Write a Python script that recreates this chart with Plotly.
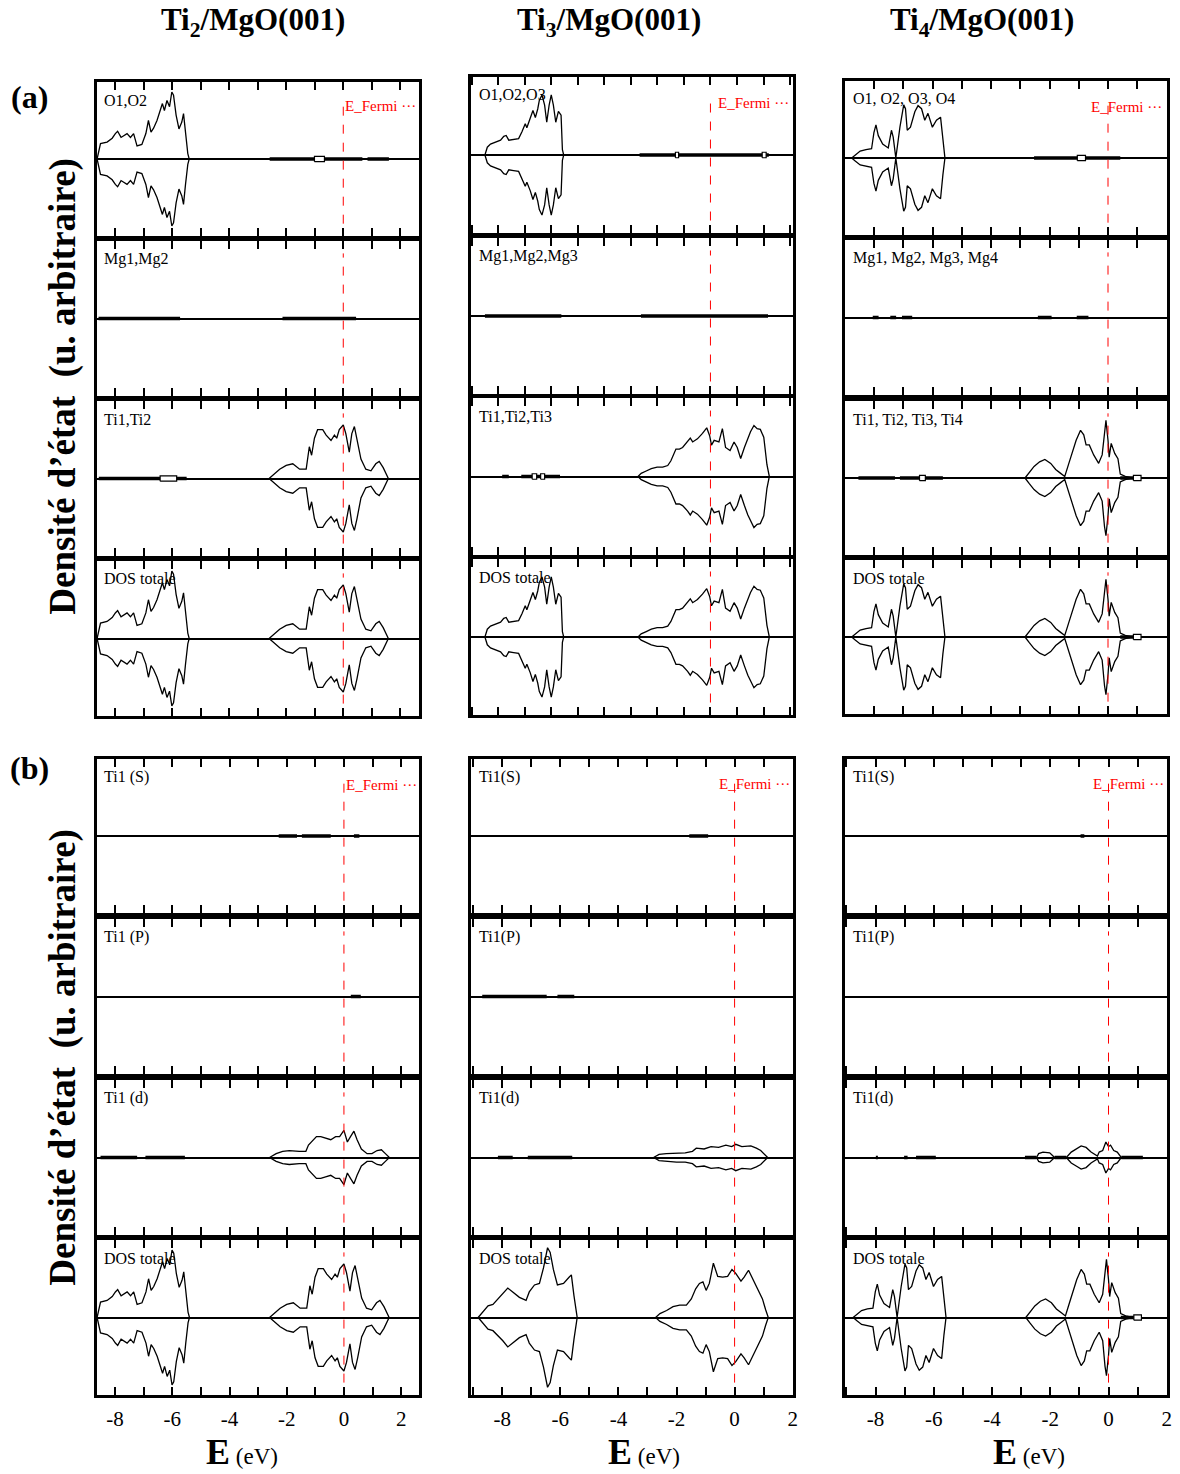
import math
import plotly.graph_objects as go

W, H = 1180, 1474

# ======================= DATA =======================
COLUMN_TITLES = ["<b>Ti<sub>2</sub>/MgO(001)</b>", "<b>Ti<sub>3</sub>/MgO(001)</b>", "<b>Ti<sub>4</sub>/MgO(001)</b>"]
LABELS_A = [["O1,O2", "Mg1,Mg2", "Ti1,Ti2", "DOS totale"],
            ["O1,O2,O3", "Mg1,Mg2,Mg3", "Ti1,Ti2,Ti3", "DOS totale"],
            ["O1, O2, O3, O4", "Mg1, Mg2, Mg3, Mg4", "Ti1, Ti2, Ti3, Ti4", "DOS totale"]]
LABELS_B = [["Ti1 (S)", "Ti1 (P)", "Ti1 (d)", "DOS totale"],
            ["Ti1(S)", "Ti1(P)", "Ti1(d)", "DOS totale"],
            ["Ti1(S)", "Ti1(P)", "Ti1(d)", "DOS totale"]]
TICK_LABELS = {-8: "-8", -6: "-6", -4: "-4", -2: "-2", 0: "0", 2: "2"}

# ---- Ti2/MgO(001) ----
E_O_ti2 = [-8.63, -8.51, -8.28, -8.10, -7.99, -7.91, -7.79, -7.67, -7.58, -7.46, -7.35, -7.23, -7.06, -6.92, -6.83, -6.74,
           -6.65, -6.53, -6.44, -6.34, -6.27, -6.18, -6.09, -6.01, -5.95, -5.86, -5.76, -5.66, -5.60, -5.53, -5.45, -5.40]
DOS_O_ti2 = [0, 0.20, 0.22, 0.27, 0.33, 0.36, 0.28, 0.31, 0.33, 0.28, 0.33, 0.17, 0.19, 0.33, 0.50, 0.35,
             0.40, 0.50, 0.61, 0.72, 0.63, 0.76, 0.68, 0.87, 0.83, 0.57, 0.39, 0.48, 0.59, 0.33, 0.07, 0]
E_Ti_ti2 = [-2.60, -2.46, -2.23, -2.00, -1.77, -1.53, -1.30, -1.19, -1.11, -1.01, -0.90, -0.72, -0.60, -0.43, -0.31,
            -0.23, -0.14, 0.00, 0.09, 0.21, 0.30, 0.39, 0.48, 0.62, 0.79, 0.97, 1.14, 1.26, 1.40, 1.58]
DOS_Ti_ti2 = [0, 0.05, 0.12, 0.17, 0.19, 0.12, 0.12, 0.41, 0.30, 0.52, 0.63, 0.63, 0.56, 0.49, 0.56,
              0.52, 0.63, 0.69, 0.58, 0.34, 0.58, 0.67, 0.52, 0.25, 0.12, 0.10, 0.19, 0.22, 0.14, 0]
E_d_ti2 = [-2.60, -2.37, -2.14, -1.91, -1.56, -1.33, -1.24, -1.10, -0.96, -0.81, -0.64, -0.46, -0.29, -0.15, 0.00,
           0.12, 0.23, 0.35, 0.46, 0.61, 0.81, 0.98, 1.16, 1.31, 1.45, 1.59]
DOS_d_ti2 = [0, 0.05, 0.08, 0.09, 0.08, 0.08, 0.16, 0.22, 0.27, 0.27, 0.25, 0.23, 0.27, 0.27, 0.35,
             0.20, 0.27, 0.34, 0.23, 0.11, 0.05, 0.05, 0.09, 0.10, 0.05, 0]

# ---- Ti3/MgO(001) ----
E_O_ti3 = [-8.50, -8.41, -8.29, -8.10, -7.91, -7.79, -7.70, -7.60, -7.42, -7.23, -7.10, -6.98, -6.92, -6.79, -6.69,
           -6.60, -6.51, -6.45, -6.35, -6.25, -6.17, -6.08, -6.00, -5.92, -5.83, -5.73, -5.63, -5.58, -5.53]
DOS_O_ti3 = [0, 0.10, 0.14, 0.17, 0.19, 0.24, 0.25, 0.19, 0.20, 0.21, 0.30, 0.40, 0.35, 0.46, 0.57,
             0.48, 0.59, 0.70, 0.77, 0.64, 0.42, 0.64, 0.77, 0.64, 0.42, 0.56, 0.51, 0.07, 0]
E_Ti_ti3 = [-2.73, -2.61, -2.42, -2.23, -2.01, -1.80, -1.61, -1.49, -1.30, -1.17, -1.05, -0.86, -0.76, -0.67, -0.49,
            -0.30, -0.14, -0.03, 0.04, 0.14, 0.32, 0.45, 0.57, 0.74, 0.89, 1.01, 1.14, 1.28, 1.41, 1.51,
            1.64, 1.76, 1.88, 2.01, 2.13, 2.22]
DOS_Ti_ti3 = [0, 0.04, 0.07, 0.10, 0.12, 0.12, 0.14, 0.20, 0.35, 0.35, 0.37, 0.44, 0.49, 0.44, 0.48,
              0.55, 0.62, 0.52, 0.40, 0.46, 0.44, 0.61, 0.37, 0.33, 0.44, 0.37, 0.23, 0.37, 0.49, 0.57,
              0.65, 0.61, 0.60, 0.50, 0.15, 0]
E_Vtot_ti3b = [-8.83, -8.66, -8.49, -8.32, -8.15, -7.98, -7.81, -7.64, -7.41, -7.18, -7.07, -6.89, -6.72, -6.58,
               -6.44, -6.35, -6.24, -6.10, -5.89, -5.70, -5.62, -5.53, -5.42]
DOS_Vtot_ti3b = [0, 0.08, 0.15, 0.17, 0.24, 0.30, 0.38, 0.33, 0.26, 0.22, 0.33, 0.42, 0.44, 0.64,
                 0.90, 0.84, 0.62, 0.42, 0.44, 0.52, 0.55, 0.28, 0]
E_Ctot_ti3b = [-2.72, -2.57, -2.34, -2.12, -1.89, -1.66, -1.49, -1.34, -1.21, -1.09, -0.98, -0.87, -0.73, -0.58,
               -0.41, -0.24, -0.09, 0.04, 0.22, 0.33, 0.48, 0.61, 0.79, 0.96, 1.07, 1.16]
DOS_Ctot_ti3b = [0, 0.05, 0.09, 0.14, 0.16, 0.16, 0.24, 0.37, 0.44, 0.46, 0.35, 0.44, 0.70, 0.53,
                 0.52, 0.53, 0.62, 0.57, 0.47, 0.52, 0.61, 0.51, 0.37, 0.24, 0.10, 0]
E_d_ti3 = [-2.79, -2.60, -2.35, -2.00, -1.70, -1.45, -1.32, -1.05, -0.81, -0.55, -0.30, -0.10, 0.04, 0.25, 0.56,
           0.75, 0.90, 1.14]
DOS_d_ti3 = [0, 0.04, 0.05, 0.06, 0.06, 0.08, 0.12, 0.11, 0.14, 0.13, 0.16, 0.14, 0.17, 0.14, 0.15,
             0.12, 0.09, 0]

# ---- Ti4/MgO(001) ----
E_O_ti4 = [-8.77, -8.65, -8.48, -8.28, -8.09, -8.01, -7.94, -7.86, -7.71, -7.52, -7.41, -7.35, -7.26, -7.12, -6.99,
           -6.93, -6.87, -6.76, -6.61, -6.50, -6.38, -6.27, -6.16, -6.01, -5.87, -5.73, -5.65, -5.58]
DOS_O_ti4 = [0, 0.04, 0.09, 0.11, 0.12, 0.33, 0.43, 0.29, 0.18, 0.13, 0.36, 0.27, 0, 0.40, 0.69,
             0.64, 0.36, 0.40, 0.60, 0.68, 0.64, 0.49, 0.58, 0.40, 0.49, 0.53, 0.22, 0]
E_Ti_ti4 = [-2.84, -2.70, -2.53, -2.34, -2.16, -1.96, -1.79, -1.62, -1.48, -1.34, -1.20, -1.09, -0.94, -0.83, -0.75,
            -0.64, -0.49, -0.32, -0.20, -0.12, -0.07, 0.00, 0.04, 0.11, 0.23, 0.34, 0.42, 0.59, 0.82]
DOS_Ti_ti4 = [0, 0.07, 0.15, 0.21, 0.24, 0.19, 0.11, 0.06, 0.02, 0.19, 0.36, 0.49, 0.62, 0.56, 0.43,
              0.43, 0.30, 0.19, 0.30, 0.63, 0.75, 0.49, 0.27, 0.45, 0.32, 0.25, 0.05, 0.02, 0]
E_d_ti4 = [-2.47, -2.40, -2.25, -2.02, -1.85, -1.45, -1.28, -1.11, -0.94, -0.77, -0.60, -0.38, -0.32, -0.20, -0.09,
           0.00, 0.07, 0.18, 0.30, 0.44]
DOS_d_ti4 = [0, 0.05, 0.07, 0.06, 0, 0, 0.07, 0.11, 0.15, 0.13, 0.07, 0.02, 0.07, 0.09, 0.20,
             0.14, 0.16, 0.09, 0.07, 0]

# ---- weak states drawn as thick bars / small boxes on the zero line (eV intervals) ----
BARS_A = [
    [[(-2.58, 0.67), (0.85, 1.60)], [(-8.58, -5.72), (-2.13, 0.45)], [(-8.57, -5.49)], []],
    [[(-2.67, 2.20)], [(-8.50, -5.62), (-2.62, 2.17)], [(-7.85, -7.60), (-7.13, -5.67)], []],
    [[(-2.53, 0.42)], [(-8.05, -7.85), (-7.45, -7.25), (-7.05, -6.70), (-2.40, -1.93), (-1.07, -0.67)],
     [(-8.54, -7.29), (-7.12, -5.65), (0.42, 1.13)], [(0.42, 1.13)]],
]
BOXES_A = [
    [[(-1.01, -0.66)], [], [(-6.42, -5.84)], []],
    [[(-1.32, -1.20), (1.95, 2.10)], [], [(-6.72, -6.55), (-6.40, -6.25)], []],
    [[(-1.05, -0.77)], [], [(-6.45, -6.25), (0.87, 1.13)], [(0.87, 1.13)]],
]
BARS_B = [
    [[(-2.28, -1.64), (-1.47, -0.46), (0.35, 0.54)], [(0.24, 0.59)], [(-8.51, -7.23), (-6.94, -5.56)], []],
    [[(-1.56, -0.91)], [(-8.69, -6.47), (-6.10, -5.52)], [(-8.15, -7.64), (-7.12, -5.59)], []],
    [[(-0.96, -0.83)], [], [(-7.99, -7.92), (-7.02, -6.90), (-6.61, -5.93), (-2.87, -2.47), (-1.85, -1.45),
                            (0.44, 1.18)], [(0.42, 1.13)]],
]
BOXES_B = [
    [[], [], [], []],
    [[], [], [], []],
    [[], [], [], [(0.87, 1.13)]],
]

# ======================= LAYOUT GEOMETRY =======================
X_PX = [(96, 420), (472, 796), (848, 1172)]
Y_PX_A = [[(82, 236), (241, 396), (401, 556), (561, 716)],
          [(77, 233), (238, 394), (398, 555), (559, 715)],
          [(81, 235), (240, 395), (401, 555), (560, 714)]]
Y_PX_B = [(759, 913), (919, 1074), (1080, 1235), (1240, 1395)]
XR_A = [(-8.65, 2.65), (-9.04, 3.11), (-9.01, 2.02)]
XR_B = [(-8.65, 2.62), (-9.09, 2.01), (-9.06, 2.01)]

fig = go.Figure()
layout = dict(width=W, height=H, margin=dict(l=0, r=0, t=0, b=0),
              paper_bgcolor="white", plot_bgcolor="white", showlegend=False)
annotations = []
shapes = []
SERIF = "Liberation Serif"


def names(n):
    return ("x" if n == 1 else f"x{n}"), ("y" if n == 1 else f"y{n}")


def lobe(n, E, D):
    xr, yr = names(n)
    xs = list(E) + list(E[::-1])
    ys = list(D) + [-d for d in D[::-1]]
    fig.add_trace(go.Scatter(x=xs, y=ys, mode="lines", line=dict(color="black", width=1.3),
                             xaxis=xr, yaxis=yr, hoverinfo="skip"))


def bars(n, segs):
    if not segs:
        return
    xr, yr = names(n)
    xs, ys = [], []
    for a, b in segs:
        xs += [a, b, None]
        ys += [0, 0, None]
    fig.add_trace(go.Scatter(x=xs, y=ys, mode="lines", line=dict(color="black", width=3.5),
                             xaxis=xr, yaxis=yr, hoverinfo="skip"))


def boxes(n, segs, h=0.035):
    if not segs:
        return
    xr, yr = names(n)
    xs, ys = [], []
    for a, b in segs:
        xs += [a, a, b, b, a, None]
        ys += [-h, h, h, -h, -h, None]
    fig.add_trace(go.Scatter(x=xs, y=ys, mode="lines", fill="toself", fillcolor="white",
                             line=dict(color="black", width=1.2), xaxis=xr, yaxis=yr, hoverinfo="skip"))


CURVES_A = [
    [[(E_O_ti2, DOS_O_ti2)], [], [(E_Ti_ti2, DOS_Ti_ti2)], [(E_O_ti2, DOS_O_ti2), (E_Ti_ti2, DOS_Ti_ti2)]],
    [[(E_O_ti3, DOS_O_ti3)], [], [(E_Ti_ti3, DOS_Ti_ti3)], [(E_O_ti3, DOS_O_ti3), (E_Ti_ti3, DOS_Ti_ti3)]],
    [[(E_O_ti4, DOS_O_ti4)], [], [(E_Ti_ti4, DOS_Ti_ti4)], [(E_O_ti4, DOS_O_ti4), (E_Ti_ti4, DOS_Ti_ti4)]],
]
CURVES_B = [
    [[], [], [(E_d_ti2, DOS_d_ti2)], [(E_O_ti2, DOS_O_ti2), (E_Ti_ti2, DOS_Ti_ti2)]],
    [[], [], [(E_d_ti3, DOS_d_ti3)], [(E_Vtot_ti3b, DOS_Vtot_ti3b), (E_Ctot_ti3b, DOS_Ctot_ti3b)]],
    [[], [], [(E_d_ti4, DOS_d_ti4)], [(E_O_ti4, DOS_O_ti4), (E_Ti_ti4, DOS_Ti_ti4)]],
]

FERMI_LABEL_POS_A = [(344, 106), (719, 103), (1094, 107)]
FERMI_LABEL_POS_B = [(345, 785), (720, 784), (1096, 784)]

for g in range(2):
    for c in range(3):
        for r in range(4):
            n = g * 12 + c * 4 + r + 1
            xr, yr = names(n)
            x0p, x1p = X_PX[c]
            y0p, y1p = (Y_PX_A[c][r] if g == 0 else Y_PX_B[r])
            rng = XR_A[c] if g == 0 else XR_B[c]
            tv = list(range(math.ceil(rng[0]), math.floor(rng[1]) + 1))
            bottom = (g == 1 and r == 3)
            tt = [TICK_LABELS.get(v, " ") for v in tv]
            layout["xaxis" if n == 1 else f"xaxis{n}"] = dict(
                domain=[x0p / W, x1p / W], range=list(rng), anchor=yr,
                showline=True, linecolor="black", linewidth=3, mirror="ticks",
                ticks="inside", ticklen=8, tickwidth=2, tickcolor="black",
                tickmode="array", tickvals=tv, ticktext=tt, showticklabels=bottom,
                ticklabelstandoff=3,
                tickfont=dict(family=SERIF, size=21, color="black"),
                showgrid=False, zeroline=False, fixedrange=True)
            layout["yaxis" if n == 1 else f"yaxis{n}"] = dict(
                domain=[1 - y1p / H, 1 - y0p / H], range=[-1, 1], anchor=xr,
                showline=True, linecolor="black", linewidth=3, mirror=True,
                ticks="", showticklabels=False, showgrid=False,
                zeroline=True, zerolinecolor="black", zerolinewidth=1.5, fixedrange=True)

            curves = CURVES_A[c][r] if g == 0 else CURVES_B[c][r]
            for E, D in curves:
                lobe(n, E, D)
            bars(n, (BARS_A if g == 0 else BARS_B)[c][r])
            boxes(n, (BOXES_A if g == 0 else BOXES_B)[c][r])

            # Fermi level
            shapes.append(dict(type="line", xref=xr, yref=f"{yr} domain", x0=0, x1=0,
                               y0=0.08, y1=(0.86 if r == 0 else 0.92),
                               line=dict(color="red", width=1, dash="dash"), layer="above"))
            # panel label
            lab = (LABELS_A if g == 0 else LABELS_B)[c][r]
            annotations.append(dict(text=lab, x=(x0p + 6) / W, y=1 - (y0p + 18) / H, xref="paper", yref="paper",
                                    xanchor="left", yanchor="middle", showarrow=False,
                                    font=dict(family=SERIF, size=16, color="black")))
        fx, fy = (FERMI_LABEL_POS_A if g == 0 else FERMI_LABEL_POS_B)[c]
        annotations.append(dict(text="E_Fermi \u00b7\u00b7\u00b7", x=fx / W, y=1 - fy / H, xref="paper", yref="paper",
                                xanchor="left", yanchor="middle", showarrow=False,
                                font=dict(family=SERIF, size=15, color="red")))

# column titles and x titles
for c, cx in enumerate([253, 611, 986]):
    annotations.append(dict(text=COLUMN_TITLES[c], x=cx / W, y=1 - 22 / H, xref="paper", yref="paper",
                            xanchor="center", yanchor="middle", showarrow=False,
                            font=dict(family=SERIF, size=31, color="black")))
    annotations.append(dict(text="<b>E</b><span style='font-size:23px'> (eV)</span>",
                            x=[242, 646, 1033][c] / W, y=1 - 1452 / H, xref="paper", yref="paper",
                            xanchor="center", yanchor="middle", showarrow=False,
                            font=dict(family=SERIF, size=36, color="black")))

for txt, yc in [("<b>(a)</b>", 97), ("<b>(b)</b>", 768)]:
    annotations.append(dict(text=txt, x=29 / W, y=1 - yc / H, xref="paper", yref="paper",
                            xanchor="center", yanchor="middle", showarrow=False,
                            font=dict(family=SERIF, size=32, color="black")))

for yc in [386, 1057]:
    annotations.append(dict(text="<b>Densit\u00e9 d\u2019\u00e9tat\u00a0\u00a0(u. arbitraire)</b>", x=62 / W, y=1 - yc / H,
                            xref="paper", yref="paper", xanchor="center", yanchor="middle",
                            textangle=-90, showarrow=False,
                            font=dict(family=SERIF, size=37, color="black")))

layout["annotations"] = annotations
layout["shapes"] = shapes
fig.update_layout(**layout)
fig.write_html("out.html")
